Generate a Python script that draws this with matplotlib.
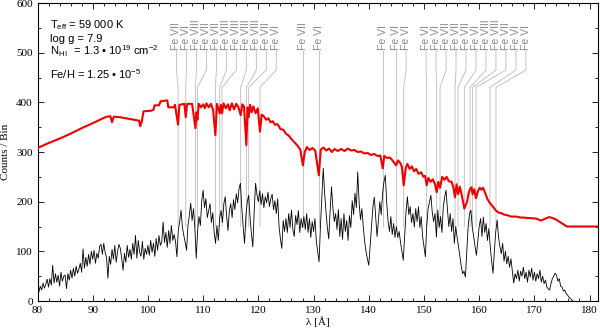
import numpy as np
import matplotlib
matplotlib.use("Agg")
import matplotlib.pyplot as plt
from matplotlib.ticker import MultipleLocator

plt.rcParams['mathtext.fontset'] = 'custom'
plt.rcParams['mathtext.rm'] = 'Liberation Sans'
plt.rcParams['mathtext.it'] = 'Liberation Sans:italic'

# observed spectrum, 0.25 A steps starting at 80 A
obs_start = 80.0
obs_step = 0.25
obs_counts = [
    28, 18, 30, 22, 36, 26, 33, 44, 28, 45, 32, 72, 36, 55, 38, 52, 30, 58, 40, 50,            # 80
    52, 25, 55, 42, 62, 46, 66, 50, 70, 56, 64, 76, 58, 105, 66, 88, 70, 94, 74, 100,          # 85
    84, 102, 76, 96, 86, 110, 114, 94, 116, 98, 88, 46, 90, 74, 104, 84, 112, 78, 100, 114,    # 90
    106, 86, 62, 96, 78, 112, 88, 104, 84, 116, 94, 132, 86, 122, 98, 90, 120, 84, 106, 94,    # 95
    112, 92, 122, 98, 116, 90, 126, 102, 132, 112, 118, 159, 118, 138, 108, 142, 116, 152, 122, 134,  # 100
    120, 89, 142, 160, 183, 148, 132, 118, 102, 152, 172, 197, 162, 186, 148, 86, 142, 170, 152, 202,  # 105
    223, 188, 206, 168, 182, 196, 158, 178, 138, 116, 152, 122, 168, 182, 158, 196, 210, 172, 142, 182,  # 110
    196, 168, 204, 184, 216, 198, 226, 237, 188, 150, 116, 172, 200, 213, 168, 135, 109, 182, 237, 214,  # 115
    200, 222, 194, 216, 188, 210, 198, 219, 190, 206, 215, 184, 202, 176, 206, 150, 125, 106, 162, 140,  # 120
    166, 138, 176, 148, 183, 144, 130, 172, 154, 182, 138, 166, 148, 170, 144, 176, 138, 166, 128, 160,  # 125
    140, 166, 120, 100, 79, 152, 210, 267, 218, 180, 148, 125, 182, 230, 188, 160, 176, 144, 184, 130,  # 130
    166, 124, 176, 140, 162, 122, 172, 148, 202, 174, 217, 188, 260, 198, 164, 186, 150, 120, 100, 85,  # 135
    72, 112, 150, 190, 209, 168, 130, 162, 200, 174, 216, 240, 253, 198, 160, 140, 170, 134, 156, 128,  # 140
    150, 128, 140, 118, 100, 82, 132, 180, 210, 174, 190, 158, 176, 149, 186, 160, 190, 148, 170, 130,  # 145
    110, 89, 152, 186, 200, 213, 178, 160, 176, 129, 183, 148, 170, 138, 190, 210, 223, 184, 150, 176,  # 150
    140, 166, 116, 150, 128, 110, 90, 70, 55, 60, 48, 100, 150, 176, 183, 148, 130, 110, 92, 122,      # 155
    150, 166, 130, 169, 138, 156, 122, 146, 110, 80, 56, 100, 140, 163, 128, 110, 95, 116, 80, 100,    # 160
    75, 90, 68, 85, 60, 36, 55, 45, 62, 40, 60, 50, 68, 45, 58, 38, 62, 48, 66, 42,                     # 165
    58, 40, 55, 45, 62, 38, 50, 35, 42, 28, 25, 22, 35, 45, 50, 56, 52, 40, 45, 30,                     # 170
    28, 20, 22, 15, 12, 8, 5, 2, 0,                                                                     # 175
]

# model spectrum
model_wl = [
    80, 82, 84, 86, 88, 90, 91.5, 92.5, 93.2, 93.5,
    93.8, 95, 96.5, 98, 98.4, 98.6, 98.9, 99.2, 100.5, 101.0,
    101.2, 102.0, 102.3, 103.5, 103.7, 104.7, 104.9, 105.46, 105.7, 106.6,
    106.85, 107.1, 108.0, 108.61, 108.8, 108.97, 109.2, 109.6, 110, 110.3,
    110.6, 111, 111.4, 111.8, 112.22, 112.5, 113.0, 113.2, 113.42, 113.7,
    114.1, 114.5, 114.8, 115.2, 115.6, 116.0, 116.4, 116.8, 117.1, 117.4,
    117.83, 118.05, 118.25, 118.5, 118.8, 119.1, 119.5, 119.9, 120.29, 120.6,
    121, 121.4, 121.8, 122.2, 122.6, 123, 123.5, 124, 124.5, 125,
    125.5, 126, 126.5, 127, 127.6, 128.07, 128.4, 128.8, 129.3, 129.8,
    130.3, 130.96, 131.3, 131.8, 132.3, 132.8, 133.3, 133.8, 134.4, 135,
    135.6, 136.2, 136.8, 137.4, 138, 138.6, 139.2, 139.8, 140.4, 141,
    141.6, 142.1, 142.53, 142.8, 143.3, 143.8, 144.3, 144.95, 145.3, 145.7,
    146, 146.33, 146.7, 147.0, 147.4, 147.8, 148.2, 148.6, 149.0, 149.5,
    149.9, 150.2, 150.49, 150.8, 151.2, 151.6, 152.0, 152.3, 152.6, 152.91,
    153.3, 153.7, 154.1, 154.5, 155, 155.3, 155.62, 155.9, 156.17, 156.5,
    156.9, 157.31, 157.8, 158.1, 158.34, 158.6, 158.81, 159.1, 159.42, 159.8,
    160.1, 160.4, 160.7, 161, 161.5, 161.95, 162.5, 163.04, 163.5, 164,
    164.5, 165, 165.8, 166.7, 167.5, 168, 169, 170.3, 171.2, 172,
    172.7, 173.3, 173.9, 175.9, 181.5,
]
model_counts = [
    308, 318, 327, 337, 348, 358, 366, 371, 372, 360,
    371, 370, 367, 364, 363, 352, 362, 382, 383, 385,
    394, 394, 402, 404, 390, 390, 395, 355, 395, 397,
    370, 397, 397, 348, 380, 365, 397, 390, 396, 388,
    398, 390, 397, 385, 334, 397, 378, 395, 378, 398,
    388, 396, 384, 398, 386, 397, 390, 374, 396, 392,
    314, 390, 370, 395, 380, 392, 378, 388, 341, 375,
    372, 365, 368, 360, 362, 355, 356, 346, 345, 337,
    333, 326, 320, 314, 305, 273, 300, 310, 304, 308,
    303, 253, 305, 309, 303, 307, 300, 306, 302, 306,
    302, 307, 303, 304, 300, 301, 297, 298, 294, 296,
    292, 293, 267, 292, 288, 289, 283, 273, 283, 278,
    270, 233, 268, 276, 266, 271, 261, 266, 256, 259,
    250, 252, 233, 248, 240, 245, 235, 219, 240, 228,
    250, 244, 250, 241, 240, 230, 209, 235, 215, 230,
    210, 186, 200, 218, 225, 229, 215, 225, 207, 222,
    228, 224, 228, 220, 205, 197, 190, 182, 178, 177,
    174, 173, 170, 170, 168, 168, 167, 166, 162, 166,
    169, 167, 164, 150, 150,
]

# identified lines
line_wl = [105.46, 106.85, 108.61, 108.97, 112.22, 113.0, 113.42, 116.8, 117.83, 118.25, 120.29,
           128.07, 130.96, 142.53, 144.95, 146.33,
           150.49, 152.3, 152.91, 155.62, 156.17, 157.31, 158.34, 158.81, 159.42, 161.95, 163.04]
line_ion = ['Fe VII', 'Fe VI', 'Fe VIII', 'Fe VII', 'Fe VII', 'Fe VIII', 'Fe VIII', 'Fe VIII',
            'Fe VIII', 'Fe VII', 'Fe VI',
            'Fe VII', 'Fe VI', 'Fe VI', 'Fe VI', 'Fe VI',
            'Fe VI', 'Fe VI', 'Fe VII', 'Fe VII', 'Fe VII', 'Fe VI', 'Fe VIII', 'Fe VIII', 'Fe VII',
            'Fe VI', 'Fe VI']
label_wl = [105.17 + 1.808 * k for k in range(11)] + [128.07, 130.96, 142.53, 144.95, 146.76] + \
           [150.38 + 1.808 * k for k in range(11)]

obs_wl = obs_start + obs_step * np.arange(len(obs_counts))

fig = plt.figure(figsize=(6, 3.28), dpi=100)
ax = fig.add_axes([0.0625, 0.0823, 0.934, 0.9085])

for lw_, lab, ion in zip(line_wl, label_wl, line_ion):
    ax.plot([lab, lab, lw_, lw_], [503, 465, 430, 150], color='#bbbbbb', lw=0.6, zorder=1)
    ax.text(lab, 506, ion, rotation=90, ha='center', va='bottom', fontsize=7.5,
            color='#888888', family='Liberation Sans')

ax.plot(obs_wl, obs_counts, color='black', lw=0.6, zorder=2)
ax.plot(model_wl, model_counts, color='#ee0000', lw=1.5, zorder=3)

ax.set_xlim(80, 181.5)
ax.set_ylim(0, 600)
ax.xaxis.set_major_locator(MultipleLocator(10))
ax.xaxis.set_minor_locator(MultipleLocator(2))
ax.yaxis.set_major_locator(MultipleLocator(100))
ax.yaxis.set_minor_locator(MultipleLocator(50))
ax.tick_params(which='both', direction='in', top=True, right=True, labelsize=8)
ax.tick_params(which='major', length=4, width=0.6)
ax.tick_params(which='minor', length=2, width=0.6)
for lab in ax.get_xticklabels() + ax.get_yticklabels():
    lab.set_family('Liberation Serif')
for s in ax.spines.values():
    s.set_linewidth(0.8)

ax.set_xlabel('λ [Å]', family='Liberation Serif', fontsize=8, labelpad=1)
ax.set_ylabel('Counts / Bin', family='Liberation Serif', fontsize=8, labelpad=4)

tx = 0.023
ax.text(tx, 0.926, r'T$_{\rm eff}$ = 59 000 K', transform=ax.transAxes, fontsize=8,
        family='Liberation Sans', va='center')
ax.text(tx, 0.879, 'log g = 7.9', transform=ax.transAxes, fontsize=8,
        family='Liberation Sans', va='center')
ax.text(tx, 0.838, r'N$_{\rm H\,I}$  = 1.3 • 10$^{19}$ cm$^{-2}$', transform=ax.transAxes,
        fontsize=8, family='Liberation Sans', va='center')
ax.text(tx, 0.762, r'Fe/H = 1.25 • 10$^{-5}$', transform=ax.transAxes, fontsize=8,
        family='Liberation Sans', va='center')

fig.savefig('out.png', dpi=100)
